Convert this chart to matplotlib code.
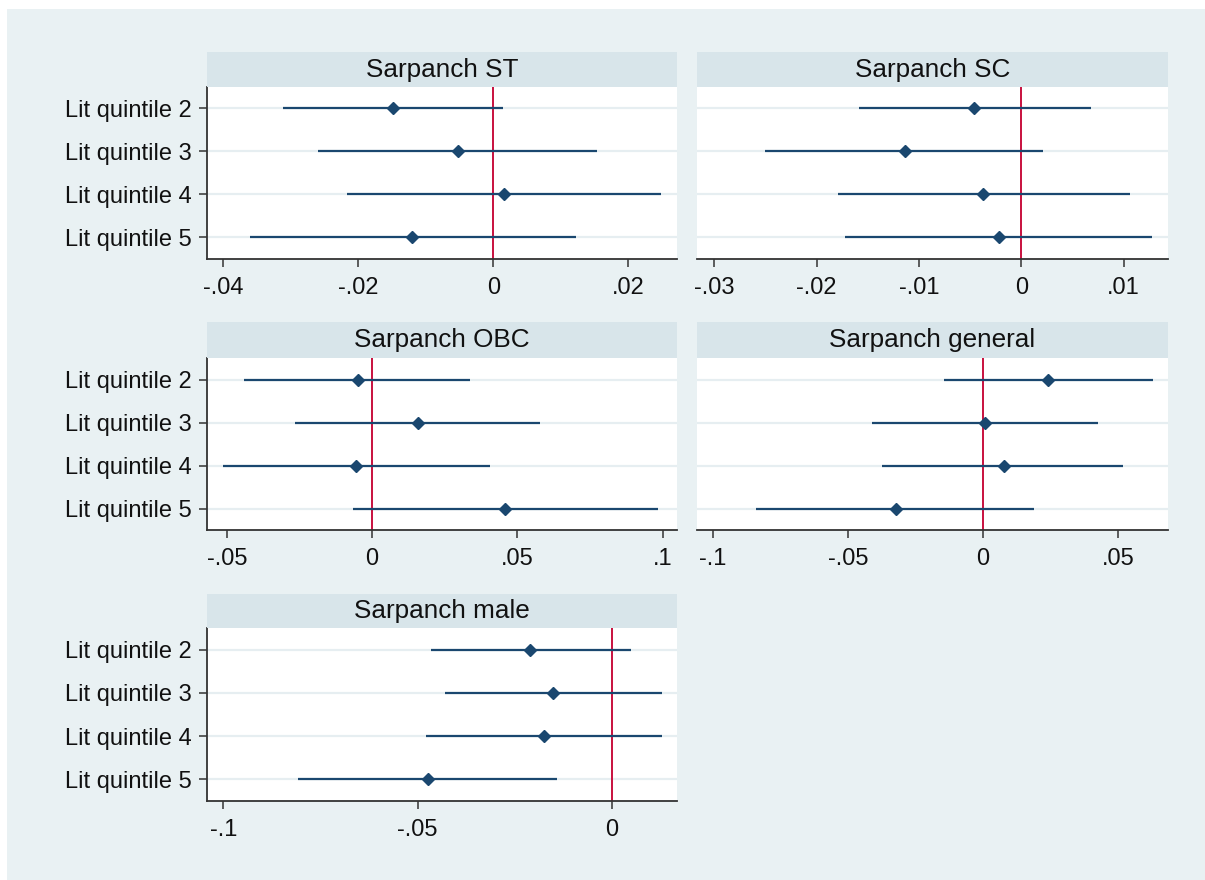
import matplotlib
matplotlib.use("Agg")
import matplotlib.pyplot as plt
from matplotlib.patches import Rectangle

plt.rcParams['font.family'] = ['Liberation Sans', 'DejaVu Sans']

# rows of each panel (top to bottom)
labels = ["Lit quintile 2", "Lit quintile 3", "Lit quintile 4", "Lit quintile 5"]

titles = ["Sarpanch ST", "Sarpanch SC", "Sarpanch OBC", "Sarpanch general", "Sarpanch male"]

# point estimates and 95% CI bounds
st_coef = [-0.0148, -0.0052, 0.0016, -0.0120]
st_lo = [-0.0312, -0.0259, -0.0216, -0.0360]
st_hi = [0.0014, 0.0153, 0.0249, 0.0123]

sc_coef = [-0.0046, -0.0114, -0.0037, -0.0022]
sc_lo = [-0.0159, -0.0251, -0.0179, -0.0172]
sc_hi = [0.0068, 0.0021, 0.0106, 0.0128]

obc_coef = [-0.0048, 0.0157, -0.0055, 0.0456]
obc_lo = [-0.0441, -0.0264, -0.0512, -0.0067]
obc_hi = [0.0338, 0.0578, 0.0404, 0.0985]

gen_coef = [0.0241, 0.0006, 0.0077, -0.0321]
gen_lo = [-0.0144, -0.0410, -0.0373, -0.0842]
gen_hi = [0.0627, 0.0424, 0.0519, 0.0189]

male_coef = [-0.0210, -0.0152, -0.0174, -0.0474]
male_lo = [-0.0465, -0.0429, -0.0478, -0.0809]
male_hi = [0.0050, 0.0129, 0.0129, -0.0140]

# axis ranges and ticks for each panel
st_ticks = [-0.04, -0.02, 0, 0.02]
sc_ticks = [-0.03, -0.02, -0.01, 0, 0.01]
obc_ticks = [-0.05, 0, 0.05, 0.1]
gen_ticks = [-0.1, -0.05, 0, 0.05]
male_ticks = [-0.1, -0.05, 0]

st_xlim = (-0.0424, 0.0272)
sc_xlim = (-0.0317, 0.01435)
obc_xlim = (-0.0568, 0.1049)
gen_xlim = (-0.1059, 0.0684)
male_xlim = (-0.1042, 0.0168)

W, H = 1205, 880
BG = '#E9F1F3'
STRIP = '#D8E5EA'
NAVY = '#1A476F'
RED = '#C8103E'
TXT = '#111111'


def stata_fmt(v):
    return ('%g' % v).replace('0.', '.', 1)


def panel(fig, left, right, strip_top, plot_top, bottom, title,
          coef, lo, hi, ticks, xlim, show_y=True):
    ax = fig.add_axes([left / W, 1 - bottom / H, (right - left) / W, (bottom - plot_top) / H])
    ax.set_facecolor('white')
    y = list(range(1, len(labels) + 1))
    for yy in y:
        ax.axhline(yy, color='#E6EEF1', lw=1.6, zorder=1)
    ax.axvline(0, color=RED, lw=1.4, zorder=2)
    ax.hlines(y, lo, hi, color=NAVY, lw=1.6, zorder=3)
    ax.plot(coef, y, 'D', color=NAVY, ms=6.3, zorder=4, ls='none')
    ax.set_ylim(len(labels) + 0.5, 0.5)
    ax.set_xlim(*xlim)
    ax.set_xticks(ticks)
    ax.set_xticklabels([stata_fmt(t) for t in ticks])
    for s in ['top', 'right']:
        ax.spines[s].set_visible(False)
    for s in ['left', 'bottom']:
        ax.spines[s].set_color('#333333')
        ax.spines[s].set_linewidth(1.3)
    ax.tick_params(axis='both', length=6, width=1.1, color='#333333',
                   labelsize=17, labelcolor=TXT)
    ax.tick_params(axis='x', pad=7)
    ax.tick_params(axis='y', pad=5)
    if show_y:
        ax.set_yticks(y)
        ax.set_yticklabels(labels)
    else:
        ax.set_yticks([])
        ax.spines['left'].set_visible(False)

    sax = fig.add_axes([left / W, 1 - plot_top / H, (right - left) / W, (plot_top - strip_top) / H])
    sax.set_facecolor(STRIP)
    sax.set_xticks([])
    sax.set_yticks([])
    for s in sax.spines.values():
        s.set_visible(False)
    sax.text(0.5, 0.5, title, ha='center', va='center', fontsize=18.8,
             color=TXT, transform=sax.transAxes)
    return ax


fig = plt.figure(figsize=(W / 100, H / 100), dpi=100)
fig.patch.set_facecolor('white')
fig.patches.append(Rectangle((7 / W, 0), 1 - 7 / W, 1 - 9 / H, transform=fig.transFigure,
                             facecolor=BG, edgecolor='none', zorder=-10))

c1 = (207, 677)
c2 = (697, 1168)
r1 = (52, 87, 259)
r2 = (322, 358, 530)
r3 = (594, 628, 801)

panel(fig, *c1, *r1, titles[0], st_coef, st_lo, st_hi, st_ticks, st_xlim)
panel(fig, *c2, *r1, titles[1], sc_coef, sc_lo, sc_hi, sc_ticks, sc_xlim, show_y=False)
panel(fig, *c1, *r2, titles[2], obc_coef, obc_lo, obc_hi, obc_ticks, obc_xlim)
panel(fig, *c2, *r2, titles[3], gen_coef, gen_lo, gen_hi, gen_ticks, gen_xlim, show_y=False)
panel(fig, *c1, *r3, titles[4], male_coef, male_lo, male_hi, male_ticks, male_xlim)

fig.savefig('out.png', dpi=100, facecolor=fig.get_facecolor())
